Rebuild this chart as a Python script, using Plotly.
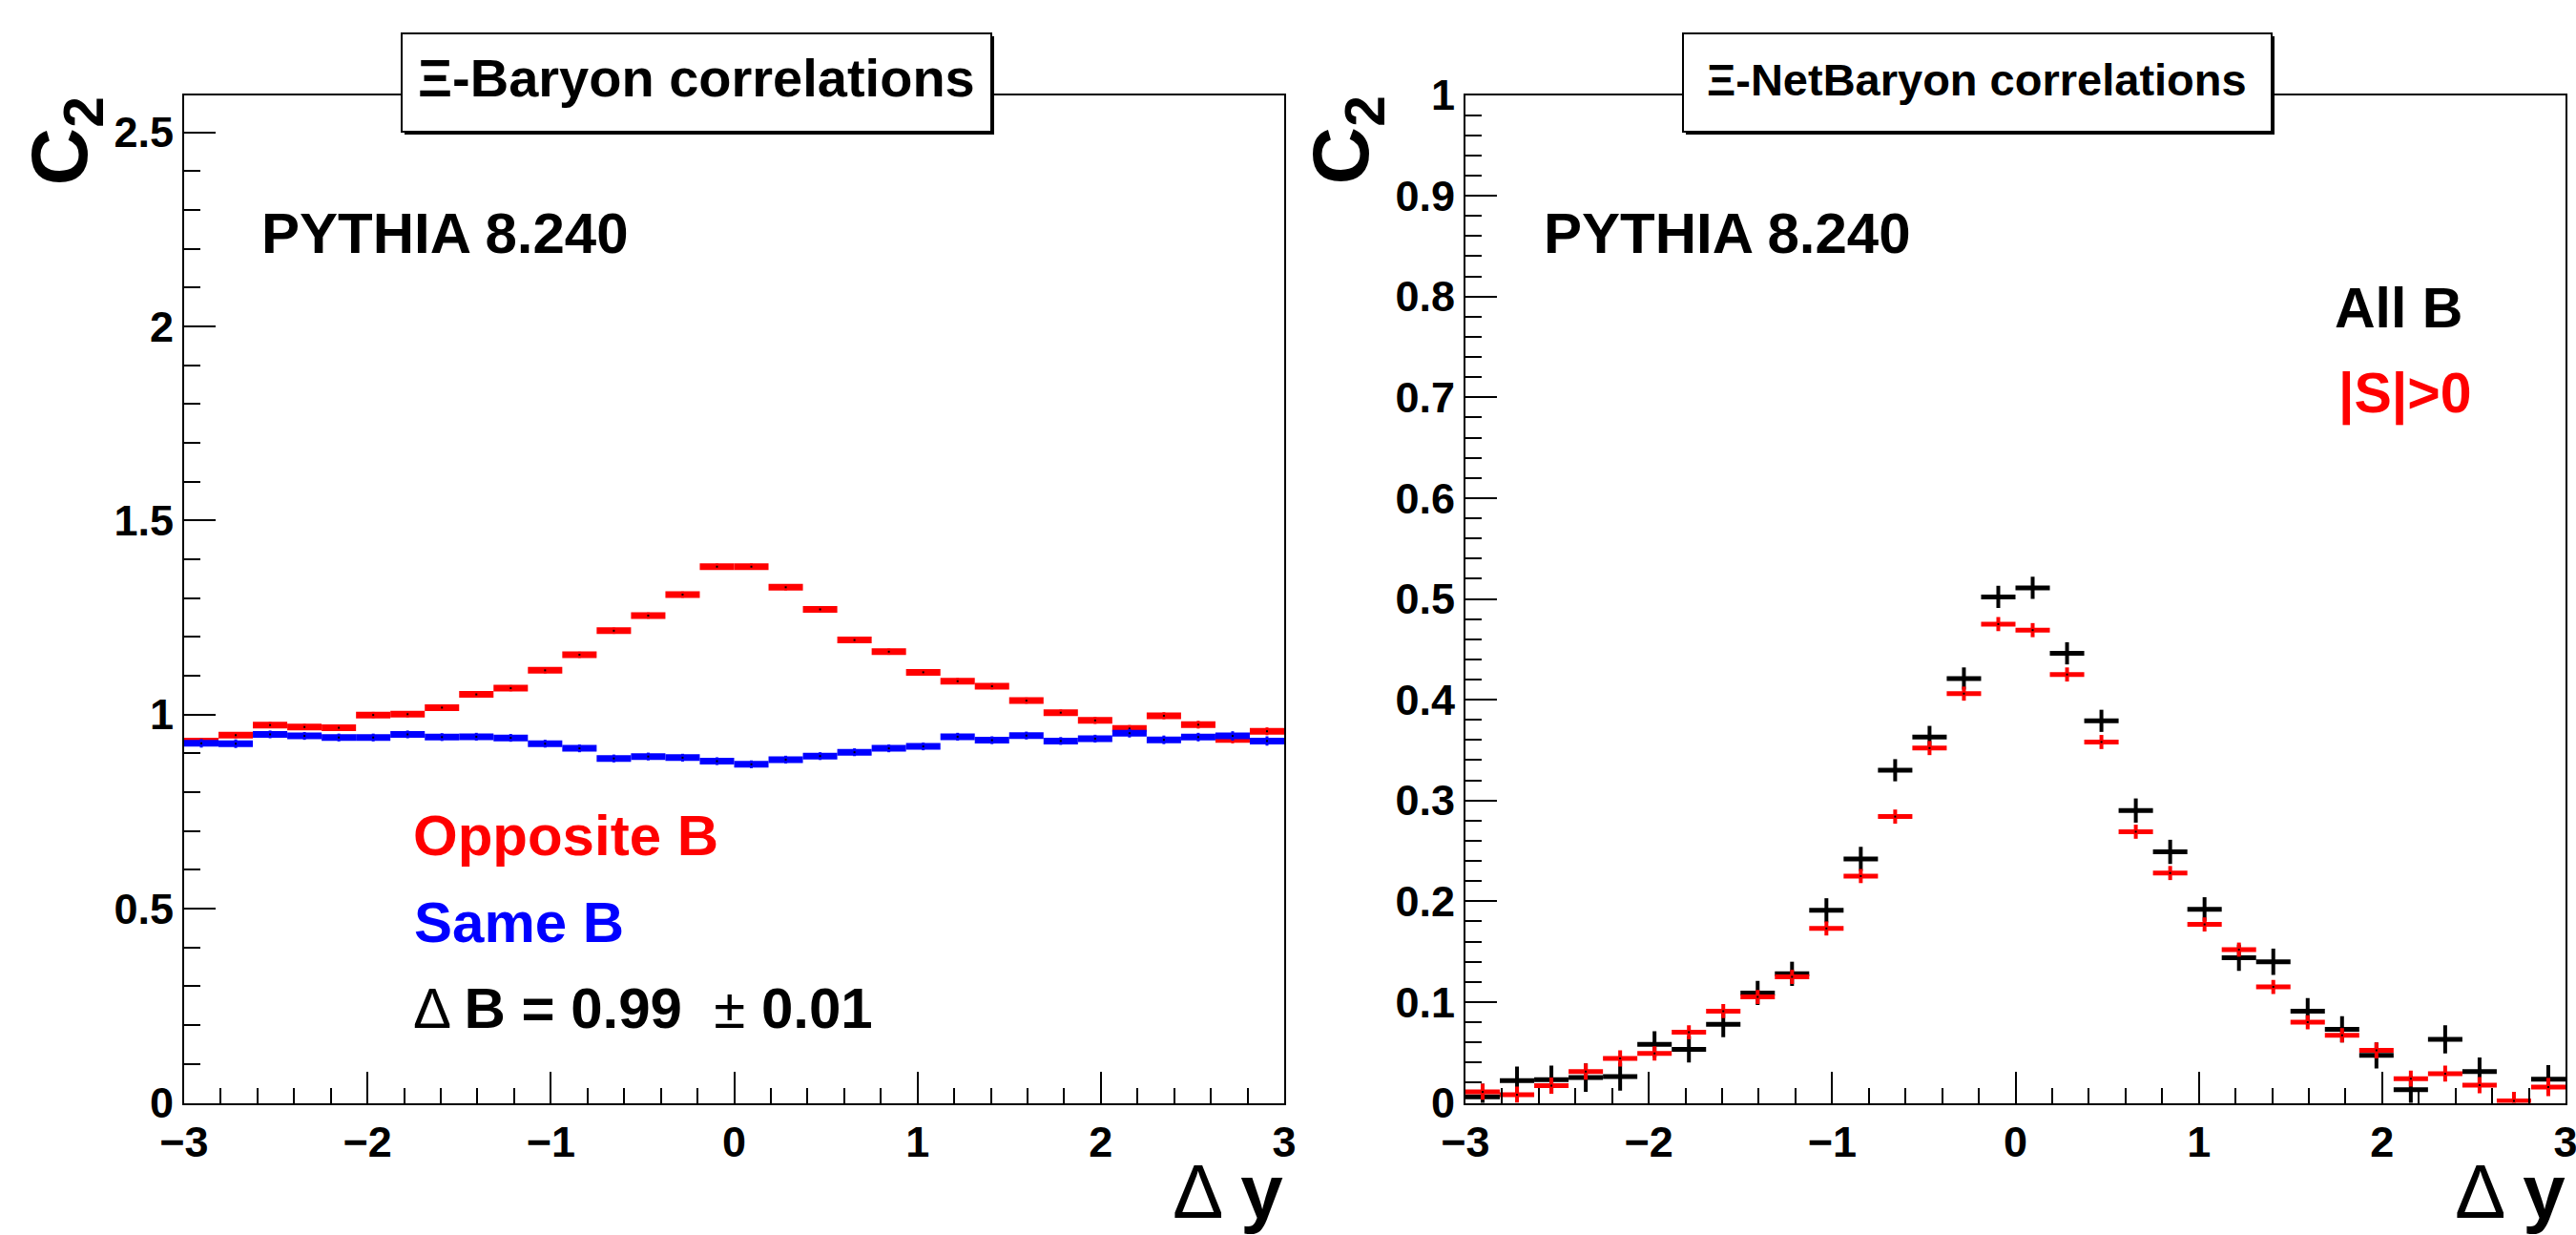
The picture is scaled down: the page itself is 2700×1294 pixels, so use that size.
import plotly.graph_objects as go

W, H = 2700, 1294

# ---- data ----
bin_centers = [-2.90625, -2.71875, -2.53125, -2.34375, -2.15625, -1.96875, -1.78125, -1.59375,
               -1.40625, -1.21875, -1.03125, -0.84375, -0.65625, -0.46875, -0.28125, -0.09375,
               0.09375, 0.28125, 0.46875, 0.65625, 0.84375, 1.03125, 1.21875, 1.40625,
               1.59375, 1.78125, 1.96875, 2.15625, 2.34375, 2.53125, 2.71875, 2.90625]
bin_halfwidth = [0.09375] * 32

opposite_B = [0.932, 0.947, 0.973, 0.968, 0.966, 0.999, 1.001, 1.018,
              1.052, 1.068, 1.114, 1.154, 1.216, 1.255, 1.309, 1.381,
              1.381, 1.328, 1.271, 1.192, 1.162, 1.109, 1.086, 1.073,
              1.036, 1.005, 0.985, 0.964, 0.997, 0.974, 0.936, 0.957]
opposite_B_err = [0.008, 0.008, 0.008, 0.008, 0.008, 0.008, 0.008, 0.008,
                  0.008, 0.008, 0.008, 0.008, 0.008, 0.008, 0.008, 0.008,
                  0.008, 0.008, 0.008, 0.008, 0.008, 0.008, 0.008, 0.008,
                  0.008, 0.008, 0.009, 0.009, 0.009, 0.010, 0.010, 0.010]
same_B = [0.926, 0.925, 0.949, 0.945, 0.941, 0.941, 0.949, 0.942,
          0.943, 0.940, 0.925, 0.913, 0.887, 0.892, 0.889, 0.880,
          0.872, 0.884, 0.893, 0.903, 0.913, 0.918, 0.943, 0.934,
          0.946, 0.932, 0.938, 0.952, 0.935, 0.942, 0.945, 0.932]
same_B_err = [0.011, 0.011, 0.010, 0.010, 0.010, 0.010, 0.010, 0.010,
              0.010, 0.010, 0.010, 0.010, 0.010, 0.010, 0.010, 0.010,
              0.010, 0.010, 0.010, 0.010, 0.010, 0.010, 0.010, 0.010,
              0.010, 0.010, 0.010, 0.011, 0.011, 0.011, 0.012, 0.012]

all_B = [0.006, 0.022, 0.023, 0.025, 0.026, 0.058, 0.053, 0.078,
         0.109, 0.128, 0.191, 0.242, 0.330, 0.363, 0.421, 0.502,
         0.511, 0.446, 0.379, 0.290, 0.249, 0.192, 0.144, 0.140,
         0.091, 0.073, 0.047, 0.013, 0.063, 0.031, -0.020, 0.0235]
all_B_err = [0.013, 0.014, 0.014, 0.014, 0.014, 0.013, 0.013, 0.013,
             0.012, 0.012, 0.012, 0.012, 0.011, 0.011, 0.011, 0.011,
             0.011, 0.011, 0.011, 0.012, 0.012, 0.012, 0.013, 0.013,
             0.013, 0.013, 0.013, 0.014, 0.014, 0.014, 0.014, 0.014]
strange_B = [0.011, 0.008, 0.017, 0.031, 0.044, 0.049, 0.070, 0.091,
             0.105, 0.125, 0.173, 0.225, 0.284, 0.352, 0.406, 0.475,
             0.469, 0.425, 0.358, 0.269, 0.228, 0.177, 0.152, 0.115,
             0.080, 0.067, 0.052, 0.024, 0.029, 0.0175, 0.002, 0.0156]
strange_B_err = [0.008, 0.008, 0.008, 0.008, 0.008, 0.007, 0.007, 0.007,
                 0.007, 0.007, 0.007, 0.007, 0.007, 0.007, 0.007, 0.007,
                 0.007, 0.007, 0.007, 0.007, 0.007, 0.007, 0.007, 0.007,
                 0.007, 0.007, 0.008, 0.008, 0.008, 0.008, 0.009, 0.009]

x_ticks = [-3, -2, -1, 0, 1, 2, 3]
x_ticklabels = ["\u22123", "\u22122", "\u22121", "0", "1", "2", "3"]
y1_ticks = [0, 0.5, 1, 1.5, 2, 2.5]
y1_ticklabels = ["0", "0.5", "1", "1.5", "2", "2.5"]
y2_ticks = [0, 0.1, 0.2, 0.3, 0.4, 0.5, 0.6, 0.7, 0.8, 0.9, 1.0]
y2_ticklabels = ["0", "0.1", "0.2", "0.3", "0.4", "0.5", "0.6", "0.7", "0.8", "0.9", "1"]

FONT = "Liberation Sans, Arial, Helvetica, sans-serif"
RED = "#ff0000"
BLUE = "#0000ff"
BLACK = "#000000"


def px_x(p):
    return p / W


def px_y(p):
    return 1 - p / H


def hist_trace(y, yerr, color, xa, ya, thick_x, thick_y):
    return go.Scatter(
        x=bin_centers, y=y, xaxis=xa, yaxis=ya, mode="markers",
        marker=dict(size=2, color=BLACK, symbol="square"),
        error_x=dict(type="data", array=bin_halfwidth, color=color, thickness=thick_x, width=0),
        error_y=dict(type="data", array=yerr, color=color, thickness=thick_y, width=0),
        showlegend=False, hoverinfo="skip",
    )


fig = go.Figure()
fig.add_trace(hist_trace(opposite_B, opposite_B_err, RED, "x", "y", 7, 3))
fig.add_trace(hist_trace(same_B, same_B_err, BLUE, "x", "y", 7, 3))
fig.add_trace(hist_trace(all_B, all_B_err, BLACK, "x2", "y2", 5, 4))
fig.add_trace(hist_trace(strange_B, strange_B_err, RED, "x2", "y2", 5, 4))

tickfont = dict(family=FONT, size=45, color=BLACK, weight="bold")

xdom1 = [px_x(193), px_x(1346)]
xdom2 = [px_x(1536), px_x(2689)]
ydom = [px_y(1155.5), px_y(99.5)]

common_x = dict(range=[-3, 3], tickvals=x_ticks, ticktext=x_ticklabels, ticks="inside",
                ticklen=33, tickwidth=1.5, tickcolor=BLACK, showline=True, linecolor=BLACK,
                linewidth=2, mirror=True, showgrid=False, zeroline=False, tickfont=tickfont,
                automargin=False, ticklabeloverflow="allow",
                minor=dict(dtick=0.2, tick0=-3, ticks="inside", ticklen=16, tickwidth=1.5,
                           tickcolor=BLACK, showgrid=False))
common_y = dict(ticks="inside", ticklen=33, tickwidth=1.5, tickcolor=BLACK, showline=True,
                linecolor=BLACK, linewidth=2, mirror=True, showgrid=False, zeroline=False,
                tickfont=tickfont, automargin=False, ticklabeloverflow="allow")

fig.update_layout(
    width=W, height=H, autosize=False,
    margin=dict(l=0, r=0, t=0, b=0, pad=0),
    paper_bgcolor="white", plot_bgcolor="white",
    xaxis=dict(domain=xdom1, anchor="y", **common_x),
    xaxis2=dict(domain=xdom2, anchor="y2", **common_x),
    yaxis=dict(domain=ydom, anchor="x", range=[0, 2.596], tickvals=y1_ticks, ticktext=y1_ticklabels,
               minor=dict(dtick=0.1, tick0=0, ticks="inside", ticklen=17, tickwidth=1.5,
                          tickcolor=BLACK, showgrid=False), **common_y),
    yaxis2=dict(domain=ydom, anchor="x2", range=[0, 1.0], tickvals=y2_ticks, ticktext=y2_ticklabels,
                minor=dict(dtick=0.02, tick0=0, ticks="inside", ticklen=17, tickwidth=1.5,
                           tickcolor=BLACK, showgrid=False), **common_y),
)

# title boxes (ROOT-style pave with small shadow)
for (x0, x1) in [(421, 1039), (1764, 2381)]:
    fig.add_shape(type="rect", xref="paper", yref="paper",
                  x0=px_x(x0 + 3), x1=px_x(x1 + 3), y0=px_y(138 + 3), y1=px_y(35 + 3),
                  fillcolor=BLACK, line=dict(width=0), layer="above")
    fig.add_shape(type="rect", xref="paper", yref="paper",
                  x0=px_x(x0), x1=px_x(x1), y0=px_y(138), y1=px_y(35),
                  fillcolor="white", line=dict(color=BLACK, width=2), layer="above")


def txt(text, x, y, size, color=BLACK, xanchor="left", weight="bold", angle=0, yanchor="middle"):
    fig.add_annotation(text=text, x=px_x(x), y=px_y(y), xref="paper", yref="paper",
                       xanchor=xanchor, yanchor=yanchor, showarrow=False, textangle=angle,
                       font=dict(family=FONT, size=size, color=color, weight=weight))


txt("\u039e-Baryon correlations", 730, 82, 56, xanchor="center")
txt("\u039e-NetBaryon correlations", 2072, 84, 47, xanchor="center")

txt("PYTHIA 8.240", 272, 244.5, 60)
txt("PYTHIA 8.240", 1616, 244.5, 60)

txt("Opposite B", 431, 875, 60, color=RED)
txt("Same B", 432, 966.5, 60, color=BLUE)
txt("\u0394 <b>B = 0.99</b>\u00a0 \u00b1 <b>0.01</b>", 431, 1056.5, 60, weight="normal")

txt("All B", 2445, 323, 59)
txt("|S|>0", 2449, 413, 59, color=RED)

# axis titles
for xr in [1347, 2691]:
    txt("\u0394 <b>y</b>", xr, 1248, 80, xanchor="right", weight="normal")
txt("C<sub>2</sub>", 122, 99, 84, xanchor="right", yanchor="top", angle=-90)
txt("C<sub>2</sub>", 1465, 99, 84, xanchor="right", yanchor="top", angle=-90)

fig.write_html("out.html", config={"displayModeBar": False},
               post_script="document.body.style.margin='0';document.body.style.overflow='hidden';")
